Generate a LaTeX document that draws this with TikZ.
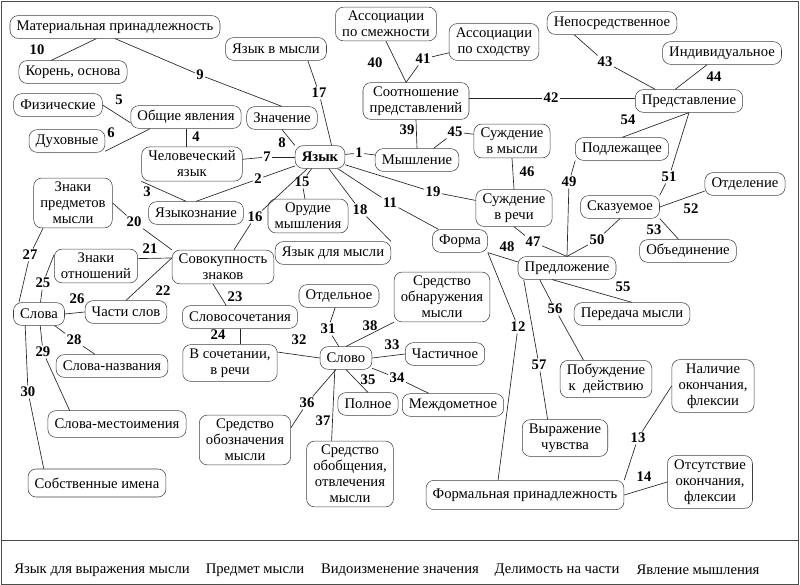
\documentclass[tikz,border=0pt]{standalone}
\usepackage{fontspec}
\setmainfont{Liberation Serif}
\tikzset
{
    bubble/.style = {draw=black!75, rounded corners=6pt, align=center, inner xsep=5pt, inner ysep=3pt, minimum height=17pt, font=\fontsize{11}{12}\selectfont},
    num/.style    = {inner sep=1pt, font=\fontsize{11}{12}\selectfont\bfseries},
    legend/.style = {inner sep=0pt, font=\fontsize{11}{12}\selectfont}
}

\begin{document}
\begin{tikzpicture}[x=0.75pt, y=-0.75pt, every edge/.append style={black!85, line width=0.5pt}]
\useasboundingbox (0,0) rectangle (800,585);

%% boxes
\node (mat)       [bubble]                  at (115,27)  {Материальная принадлежность};
\node (koren)     [bubble]                  at (73,72)   {Корень, основа};
\node (fiz)       [bubble]                  at (58,105)  {Физические};
\node (obsh)      [bubble]                  at (186,117) {Общие явления};
\node (duh)       [bubble]                  at (67,141)  {Духовные};
\node (chel)      [bubble]                  at (192,164) {Человеческий\\язык};
\node (yavm)      [bubble]                  at (276,49)  {Язык в мысли};
\node (znach)     [bubble]                  at (282,118) {Значение};
\node (yaz)       [bubble, font=\fontsize{11}{12}\selectfont\bfseries] at (320,157) {Язык};
\node (assm)      [bubble]                  at (386,24)  {Ассоциации\\по смежности};
\node (assh)      [bubble]                  at (494,42)  {Ассоциации\\по сходству};
\node (sootn)     [bubble]                  at (416,101) {Соотношение\\представлений};
\node (mysh)      [bubble]                  at (417,160) {Мышление};
\node (sudm)      [bubble]                  at (512,141) {Суждение\\в мысли};
\node (neposr)    [bubble]                  at (612,23)  {Непосредственное};
\node (indiv)     [bubble]                  at (722,53)  {Индивидуальное};
\node (pred)      [bubble]                  at (689,101) {Представление};
\node (podl)      [bubble]                  at (622,149) {Подлежащее};
\node (znpr)      [bubble]                  at (73,203)  {Знаки\\предметов\\мысли};
\node (yazn)      [bubble]                  at (196,213) {Языкознание};
\node (orud)      [bubble]                  at (308,216) {Орудие\\мышления};
\node (yadm)      [bubble]                  at (333,253) {Язык для мысли};
\node (forma)     [bubble]                  at (460,241) {Форма};
\node (sudr)      [bubble]                  at (514,208) {Суждение\\в речи};
\node (skaz)      [bubble]                  at (620,207) {Сказуемое};
\node (otdel)     [bubble]                  at (745,184) {Отделение};
\node (obed)      [bubble]                  at (688,251) {Объединение};
\node (predl)     [bubble]                  at (567,268) {Предложение};
\node (sovok)     [bubble]                  at (223,267) {Совокупность\\знаков};
\node (znotn)     [bubble]                  at (96,266)  {Знаки\\отношений};
\node (slova)     [bubble]                  at (39,314)  {Слова};
\node (chasti)    [bubble]                  at (126,312) {Части слов};
\node (slovos)    [bubble]                  at (240,317) {Словосочетания};
\node (vsoch)     [bubble]                  at (230,363) {В сочетании,\\в речи};
\node (otdeln)    [bubble]                  at (339,296) {Отдельное};
\node (sredobn)   [bubble]                  at (442,297) {Средство\\обнаружения\\мысли};
\node (slovo)     [bubble]                  at (346,358) {Слово};
\node (chast)     [bubble]                  at (445,354) {Частичное};
\node (peredacha) [bubble]                  at (632,314) {Передача мысли};
\node (pobuzh)    [bubble]                  at (606,379) {Побуждение\\к\ \ действию};
\node (slnaz)     [bubble]                  at (112,366) {Слова-названия};
\node (slmest)    [bubble, minimum height=20pt] at (117,424) {Слова-местоимения};
\node (sobst)     [bubble, minimum height=21pt] at (97,483)  {Собственные имена};
\node (polnoe)    [bubble]                  at (368,404) {Полное};
\node (mezhd)     [bubble]                  at (453,405) {Междометное};
\node (sredoboz)  [bubble]                  at (245,440) {Средство\\обозначения\\мысли};
\node (sredobob)  [bubble]                  at (350,474) {Средство\\обобщения,\\отвлечения\\мысли};
\node (vyraz)     [bubble]                  at (565,438) {Выражение\\чувства};
\node (nalich)    [bubble]                  at (713,386) {Наличие\\окончания,\\флексии};
\node (otsut)     [bubble]                  at (710,482) {Отсутствие\\окончания,\\флексии};
\node (formal)    [bubble, minimum height=22pt] at (525,495) {Формальная принадлежность};

%% numbers
\node (n1)  [num] at (359,153) {1};
\node (n2)  [num] at (258,179) {2};
\node (n3)  [num] at (147,192) {3};
\node (n4)  [num] at (196,137) {4};
\node (n5)  [num] at (119,100) {5};
\node (n6)  [num] at (111,133) {6};
\node (n7)  [num] at (267,157) {7};
\node (n8)  [num] at (282,143) {8};
\node (n9)  [num] at (200,75)  {9};
\node (n10) [num] at (37,50)   {10};
\node (n11) [num] at (390,203) {11};
\node (n12) [num] at (518,327) {12};
\node (n13) [num] at (638,438) {13};
\node (n14) [num] at (644,477) {14};
\node (n15) [num] at (302,182) {15};
\node (n16) [num] at (255,217) {16};
\node (n17) [num] at (319,93)  {17};
\node (n18) [num] at (360,210) {18};
\node (n19) [num] at (433,192) {19};
\node (n20) [num] at (134,222) {20};
\node (n21) [num] at (150,249) {21};
\node (n22) [num] at (163,291) {22};
\node (n23) [num] at (235,297) {23};
\node (n24) [num] at (218,335) {24};
\node (n25) [num] at (43,283)  {25};
\node (n26) [num] at (77,299)  {26};
\node (n27) [num] at (30,255)  {27};
\node (n28) [num] at (74,340)  {28};
\node (n29) [num] at (43,352)  {29};
\node (n30) [num] at (28,392)  {30};
\node (n31) [num] at (328,329) {31};
\node (n32) [num] at (299,340) {32};
\node (n33) [num] at (392,345) {33};
\node (n34) [num] at (397,378) {34};
\node (n35) [num] at (368,380) {35};
\node (n36) [num] at (307,403) {36};
\node (n37) [num] at (323,421) {37};
\node (n38) [num] at (370,326) {38};
\node (n39) [num] at (407,130) {39};
\node (n40) [num] at (375,63)  {40};
\node (n41) [num] at (423,59)  {41};
\node (n42) [num] at (551,98)  {42};
\node (n43) [num] at (605,62)  {43};
\node (n44) [num] at (714,77)  {44};
\node (n45) [num] at (455,132) {45};
\node (n46) [num] at (527,172) {46};
\node (n47) [num] at (533,242) {47};
\node (n48) [num] at (507,247) {48};
\node (n49) [num] at (569,182) {49};
\node (n50) [num] at (597,240) {50};
\node (n51) [num] at (669,177) {51};
\node (n52) [num] at (691,209) {52};
\node (n53) [num] at (654,230) {53};
\node (n54) [num] at (628,120) {54};
\node (n55) [num] at (623,287) {55};
\node (n56) [num] at (555,309) {56};
\node (n57) [num] at (539,365) {57};

%% connectors
\path
(yaz)                 edge (n1)        (n1)  edge (mysh)
(yazn.north)          edge (n2)        (n2)  edge (yaz)
(chel.south west)     edge (yazn.130)
(obsh.south)          edge (obsh.south |- chel.north)
(fiz.east)            edge (obsh.186)
(duh.345)             edge (obsh.198)
(chel)                edge (n7)        (n7)  edge (yaz)
(znach.south)         edge (yaz.north west)
(mat.south)           edge (n9)        (n9)  edge (znach.north)
(koren.152)           edge (mat.212)
(yaz)                 edge (n11)       (n11) edge (forma)
(forma.south east)    edge (n12)       (n12) edge (formal.151)
(formal.north east)   edge (n13)       (n13) edge (nalich.west)
(formal.east)         edge (otsut.west)
(yaz)                 edge (n15)       (n15) edge (orud)
(sovok)               edge (n16)       (n16) edge (yaz)
(yavm.340)            edge (n17)       (n17) edge (yaz.45)
(yaz)                 edge (n18)       (n18) edge (yadm.north east)
(yaz)                 edge (n19)       (n19) edge (sudr)
(znpr.east)           edge (n20)       (n20) edge (sovok.north west)
(znotn.10)            edge (sovok.170)
(chasti.north)        edge (sovok.170)
(sovok.240)           edge (slovos.140)
(slovos.south)        edge (slovos.south |- vsoch.north)
(slova)               edge (n25)       (n25) edge (znotn.165)
(slova.east)          edge (chasti.west)
(slova.150)           edge (n27)       (n27) edge (znpr.220)
(slova)               edge (n28)       (n28) edge (slnaz)
(slova)               edge (n29)       (n29) edge (slmest.164)
(slova.220)           edge (n30)       (n30) edge (sobst.165)
(otdeln)              edge (n31)       (n31) edge (slovo)
(vsoch.13)            edge (slovo.west)
(slovo.east)          edge (chast.west)
(slovo)               edge (n34)       (n34) edge (mezhd)
(slovo.south)         edge (polnoe.north)
(slovo)               edge (n36)       (n36) edge (sredoboz.15)
(slovo.226)           edge (sredobob.119)
(slovo.north)         edge (sredobn.south west)
(sootn.south)         edge (mysh.north)
(assm.south)          edge (sootn.118)
(assh)                edge (n41)       (n41) edge (sootn.118)
(sootn.east |- n42)   edge (n42)       (n42) edge (n42 -| pred.west)
(neposr.197)          edge (n43)       (n43) edge (pred.161)
(indiv.218)           edge (pred.140)
(mysh.35)             edge (n45)       (n45) edge (sudm.170)
(sudm.south)          edge (sudr.north)
(sudr.south)          edge (n47)       (n47) edge (predl.north)
(forma.south east)    edge (predl.173)
(predl.north)         edge (n49)       (n49) edge (podl.south west)
(predl.north)         edge (n50)       (n50) edge (skaz.south)
(skaz.north east)     edge (n51)       (n51) edge (pred.south)
(skaz.east)           edge (otdel.190)
(skaz.south east)     edge (obed.129)
(pred.south)          edge (podl.north)
(predl.218)           edge (peredacha.north)
(predl.203)           edge (n56)       (n56) edge (pobuzh.140)
(predl.195)           edge (n57)       (n57) edge (vyraz.133);

%% frame and legend
\draw[black!70] (1,1) rectangle (798,584);
\draw[black!70] (1,540) -- (798,540);
\node (leg1) [legend] at (102,570) {Язык для выражения мысли};
\node (leg2) [legend] at (255,570) {Предмет мысли};
\node (leg3) [legend] at (400,570) {Видоизменение значения};
\node (leg4) [legend] at (557,570) {Делимость на части};
\node (leg5) [legend] at (698,570) {Явление мышления};

\end{tikzpicture}
\end{document}
